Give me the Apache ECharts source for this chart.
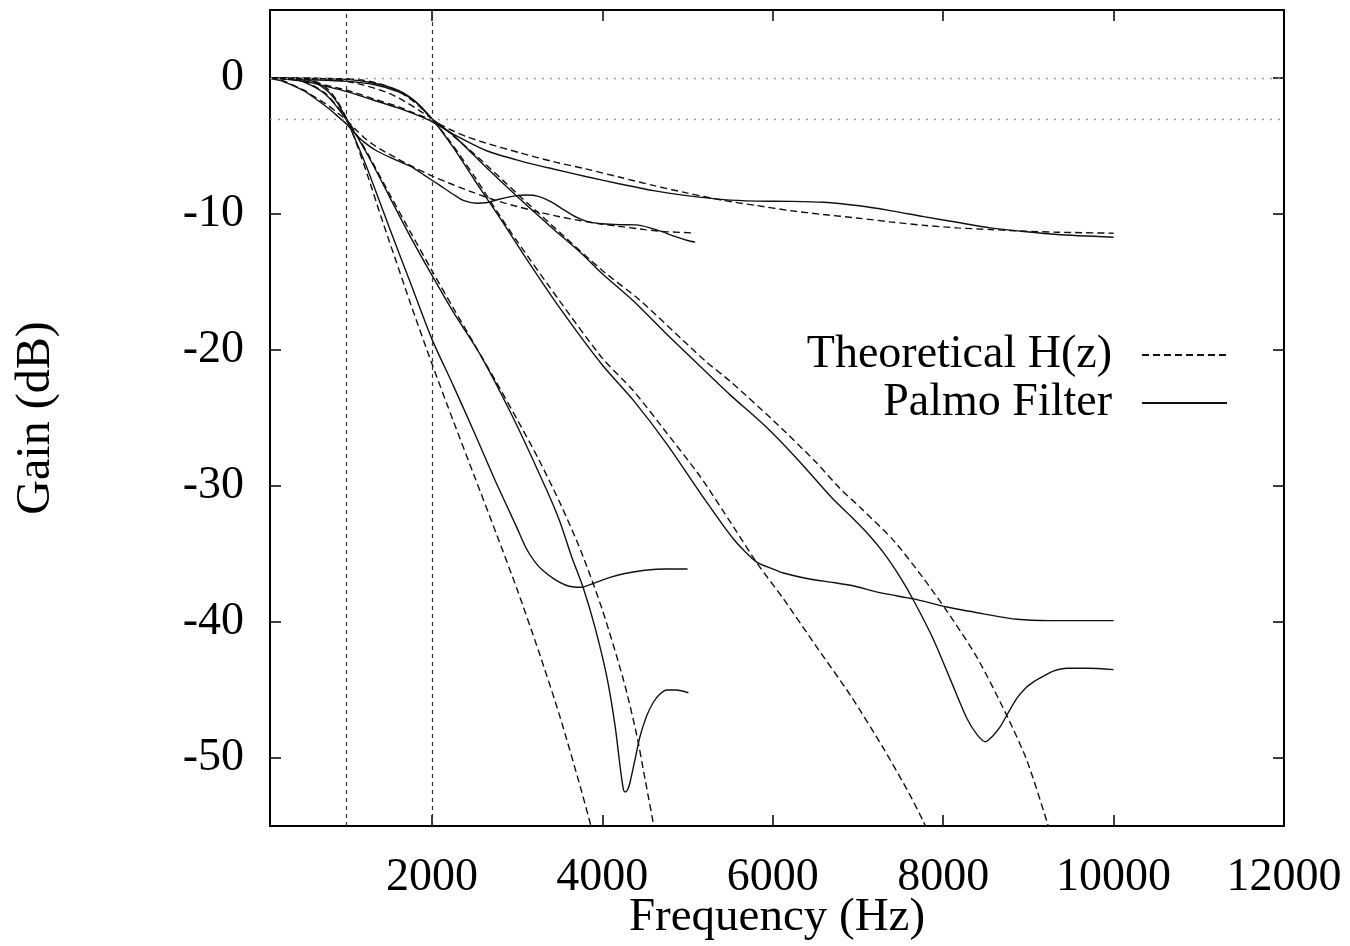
<!DOCTYPE html>
<html><head><meta charset="utf-8">
<script src="https://cdn.jsdelivr.net/npm/echarts@6/dist/echarts.min.js"></script>
<style>html,body{margin:0;padding:0;background:#fff}#c{width:1350px;height:946px}</style>
</head><body><div id="c"></div>
<script>
// ---- ticks & reference lines ----
const xTicks = [2000, 4000, 6000, 8000, 10000, 12000];
const yTicks = [0, -10, -20, -30, -40, -50];
const refFreqs = [1000, 2000];
const refGains = [0, -3];

// ---- fc = 1000 Hz group ----
const thShelfA_f = [100,250,500,650,800,900,1000,1100,1200,1300,1400,1600,1800,2000,2250,2500,2750,3000,3250,3500,3750,4000,4250,4500,4750,5090];
const thShelfA_g = [0,-0.2,-0.9,-1.5,-2.1,-2.6,-3.1,-3.75,-4.35,-4.85,-5.25,-5.95,-6.6,-7.2,-7.85,-8.45,-9.0,-9.45,-9.85,-10.2,-10.5,-10.75,-10.95,-11.15,-11.3,-11.4];
const pmShelfA_f = [100,250,500,650,800,900,1000,1100,1200,1349,1550,1780,1900,2094,2250,2368,2525,2650,2800,3000,3112,3250,3400,3550,3700,3850,4000,4200,4400,4550,4700,4850,5000,5090];
const pmShelfA_g = [-0.05,-0.25,-0.95,-1.6,-2.3,-2.85,-3.4,-4.1,-4.7,-5.35,-5.95,-6.6,-7.1,-7.9,-8.55,-9.0,-9.21,-9.15,-8.9,-8.65,-8.6,-8.7,-9.1,-9.7,-10.25,-10.6,-10.72,-10.78,-10.8,-11.0,-11.3,-11.65,-11.95,-12.07];

const thLp3A_f = [100,300,500,600,700,800,900,1000,1100,1250,1400,1500,1750,2000,2250,2500,2750,3000,3250,3500,3750,3875,3950];
const thLp3A_g = [0,-0.01,-0.06,-0.17,-0.45,-0.95,-1.8,-3.0,-4.55,-7.25,-10.15,-12.0,-16.6,-21.0,-25.2,-29.3,-33.4,-37.6,-42.1,-46.9,-52.3,-55.2,-57.0];
const pmLp3A_f = [100,300,500,600,700,800,900,1000,1100,1250,1500,1750,2000,2250,2500,2750,3000,3100,3200,3300,3450,3600,3750,3900,4100,4250,4500,4750,5000];
const pmLp3A_g = [0,-0.02,-0.1,-0.25,-0.6,-1.1,-1.9,-3.1,-4.5,-6.8,-11.0,-15.1,-19.2,-22.6,-26.1,-29.7,-33.1,-34.5,-35.5,-36.2,-36.9,-37.35,-37.45,-37.15,-36.7,-36.45,-36.2,-36.1,-36.1];

const thLp2A_f = [100,300,500,750,1000,1250,1500,1750,2000,2250,2500,2750,3000,3250,3500,3750,4000,4250,4400,4500,4620,4700];
const thLp2A_g = [0,-0.02,-0.24,-1.13,-3.0,-5.6,-8.5,-11.35,-14.15,-16.9,-19.6,-22.3,-25.1,-28.0,-31.2,-34.8,-39.1,-44.3,-48.2,-51.5,-55.5,-58];
const pmLp2A_f = [100,300,500,750,1000,1250,1500,1750,2000,2250,2564,2955,3347,3500,3640,3777,3914,4052,4149,4208,4247,4267,4300,4325,4384,4443,4521,4599,4677,4756,4873,5010];
const pmLp2A_g = [0,-0.03,-0.3,-1.2,-3.1,-5.7,-8.7,-11.7,-14.5,-17.2,-20.3,-25.0,-30.3,-32.6,-35.2,-37.5,-40.4,-44.0,-47.6,-50.6,-52.3,-52.5,-52.3,-51.8,-50.1,-48.4,-46.9,-45.9,-45.3,-45.0,-45.0,-45.2];

// ---- fc = 2000 Hz group ----
const thShelfB_f = [100,500,1000,1300,1600,1800,2000,2200,2400,2642,3033,3424,3817,4208,4599,4991,5421,5813,6204,6595,6987,7378,7770,8162,8553,8944,9336,10000];
const thShelfB_g = [0,-0.2,-0.9,-1.5,-2.1,-2.6,-3.1,-3.75,-4.3,-4.8,-5.5,-6.15,-6.7,-7.3,-7.9,-8.45,-9.0,-9.38,-9.75,-10.04,-10.29,-10.58,-10.83,-11.02,-11.14,-11.26,-11.34,-11.41];
const pmShelfB_f = [100,500,1000,1300,1600,1858,2000,2250,2642,3033,3424,3817,4208,4599,4991,5421,5800,6204,6595,6987,7378,7770,8162,8553,8944,9336,10000];
const pmShelfB_g = [0,-0.25,-1.0,-1.6,-2.2,-2.8,-3.2,-4.13,-5.35,-6.09,-6.69,-7.26,-7.79,-8.28,-8.65,-8.94,-9.05,-9.07,-9.14,-9.38,-9.75,-10.19,-10.61,-11.02,-11.29,-11.51,-11.71];

const thLp3B_f = [100,1000,1200,1400,1600,1800,2000,2200,2500,2800,3000,3500,4000,4365,4756,5148,5539,5813,6126,6500,6913,7300,7600,7770,7900];
const thLp3B_g = [0,-0.06,-0.17,-0.45,-0.95,-1.8,-3.0,-4.55,-7.25,-10.15,-12.0,-16.4,-20.6,-23.0,-26.1,-29.3,-33.0,-35.65,-38.3,-41.7,-45.4,-49.3,-52.6,-54.7,-56.5];
const pmLp3B_f = [100,1000,1300,1600,1800,2000,2250,2500,2800,3100,3500,4000,4365,4756,5148,5539,5813,6000,6126,6400,6713,6913,7300,7652,8044,8475,8866,9258,10000];
const pmLp3B_g = [0,-0.1,-0.35,-0.9,-1.7,-3.0,-5.1,-7.5,-10.3,-13.2,-16.9,-21.1,-23.7,-26.9,-30.5,-33.9,-35.6,-36.1,-36.4,-36.8,-37.1,-37.3,-37.9,-38.3,-38.9,-39.4,-39.8,-39.9,-39.9];

const thLp2B_f = [100,600,1000,1500,2000,2500,3000,3500,4000,4443,5000,5226,5500,6009,6500,6791,7030,7417,7770,8044,8397,8749,8984,9219,9350];
const thLp2B_g = [0,-0.02,-0.24,-1.13,-3.0,-5.6,-8.5,-11.35,-14.15,-16.35,-19.6,-20.9,-22.3,-25.2,-28.2,-30.2,-31.6,-34.0,-36.8,-39.2,-42.6,-46.9,-50.2,-54.7,-57.5];
const pmLp2B_f = [100,1000,1330,1600,1800,2000,2250,2642,3033,3424,3738,4000,4365,4750,5148,5500,5930,6300,6713,6913,7100,7300,7495,7652,7887,8083,8279,8400,8494,8580,8670,8770,8866,8960,9060,9140,9300,9454,9700,10000];
const pmLp2B_g = [0,-0.25,-0.5,-1.0,-1.7,-3.0,-4.2,-6.6,-8.9,-11.1,-12.8,-14.4,-16.4,-18.8,-21.2,-23.3,-25.7,-28.1,-31.0,-32.2,-33.4,-34.9,-36.7,-38.4,-41.3,-44.2,-47.1,-48.3,-48.8,-48.4,-47.7,-46.6,-45.6,-44.9,-44.4,-44.1,-43.6,-43.4,-43.4,-43.5];

const TH = 'Theoretical H(z)';
const PM = 'Palmo Filter';
const curves = [
  [TH, thShelfA_f, thShelfA_g], [PM, pmShelfA_f, pmShelfA_g],
  [TH, thLp3A_f, thLp3A_g], [PM, pmLp3A_f, pmLp3A_g],
  [TH, thLp2A_f, thLp2A_g], [PM, pmLp2A_f, pmLp2A_g],
  [TH, thShelfB_f, thShelfB_g], [PM, pmShelfB_f, pmShelfB_g],
  [TH, thLp3B_f, thLp3B_g], [PM, pmLp3B_f, pmLp3B_g],
  [TH, thLp2B_f, thLp2B_g], [PM, pmLp2B_f, pmLp2B_g]
];

const FONT = '"Liberation Serif","DejaVu Serif",serif';
const INK = '#111';

const series = curves.map(([name, f, g]) => ({
  type: 'line', name,
  data: f.map((v, k) => [v, g[k]]),
  showSymbol: false, symbol: 'none',
  smooth: 0.25,
  clip: true, z: 3,
  lineStyle: { color: INK, width: 1.4, type: name === TH ? [7, 4] : 'solid' },
  itemStyle: { color: INK },
  emphasis: { disabled: true }
}));
series.push({
  type: 'line', name: 'ref', data: [], z: 1, silent: true,
  markLine: {
    silent: true, symbol: ['none', 'none'], label: { show: false }, animation: false,
    data: [
      ...refFreqs.map(v => ({ xAxis: v, lineStyle: { type: [4, 4], color: '#333', width: 1.2 } })),
      ...refGains.map(v => ({ yAxis: v, lineStyle: { type: [2, 6], color: '#999', width: 1.3 } }))
    ]
  }
});

const frame = { show: true, onZero: false, lineStyle: { color: '#000', width: 2 } };
const tick = (vals) => ({ show: true, inside: true, length: 11, customValues: vals, lineStyle: { color: '#000', width: 1.5 } });
const plain = v => String(v);

const chart = echarts.init(document.getElementById('c'), null, { renderer: 'canvas' });
chart.setOption({
  animation: false,
  backgroundColor: '#fff',
  grid: { left: 270, right: 66, top: 10, bottom: 120, containLabel: false, outerBoundsMode: 'none' },
  legend: {
    data: [TH, PM],
    orient: 'vertical', align: 'right',
    right: 117, top: 326,
    itemWidth: 85, itemHeight: 14, itemGap: 0,
    selectedMode: false,
    itemStyle: { opacity: 0 },
    textStyle: { fontFamily: FONT, fontSize: 46, color: '#000', lineHeight: 48, padding: [0, 25, 0, 0] }
  },
  xAxis: [
    { type: 'value', min: 100, max: 12000, position: 'bottom',
      axisLine: frame, axisTick: tick(xTicks),
      axisLabel: { customValues: xTicks, formatter: plain, fontFamily: FONT, fontSize: 46, color: '#000', margin: 29 },
      splitLine: { show: false },
      name: 'Frequency (Hz)', nameLocation: 'middle', nameGap: 68, nameMoveOverlap: false,
      nameTextStyle: { fontFamily: FONT, fontSize: 47, color: '#000' } },
    { type: 'value', min: 100, max: 12000, position: 'top',
      axisLine: frame, axisTick: tick(xTicks), axisLabel: { show: false }, splitLine: { show: false } }
  ],
  yAxis: [
    { type: 'value', min: -55, max: 5, position: 'left',
      axisLine: frame, axisTick: tick(yTicks),
      axisLabel: { customValues: yTicks, formatter: plain, fontFamily: FONT, fontSize: 46, color: '#000', margin: 26 },
      splitLine: { show: false },
      name: 'Gain (dB)', nameLocation: 'middle', nameGap: 210, nameRotate: 90, nameMoveOverlap: false,
      nameTextStyle: { fontFamily: FONT, fontSize: 48, color: '#000' } },
    { type: 'value', min: -55, max: 5, position: 'right',
      axisLine: frame, axisTick: tick(yTicks), axisLabel: { show: false }, splitLine: { show: false } }
  ],
  series
});
</script>
</body></html>
